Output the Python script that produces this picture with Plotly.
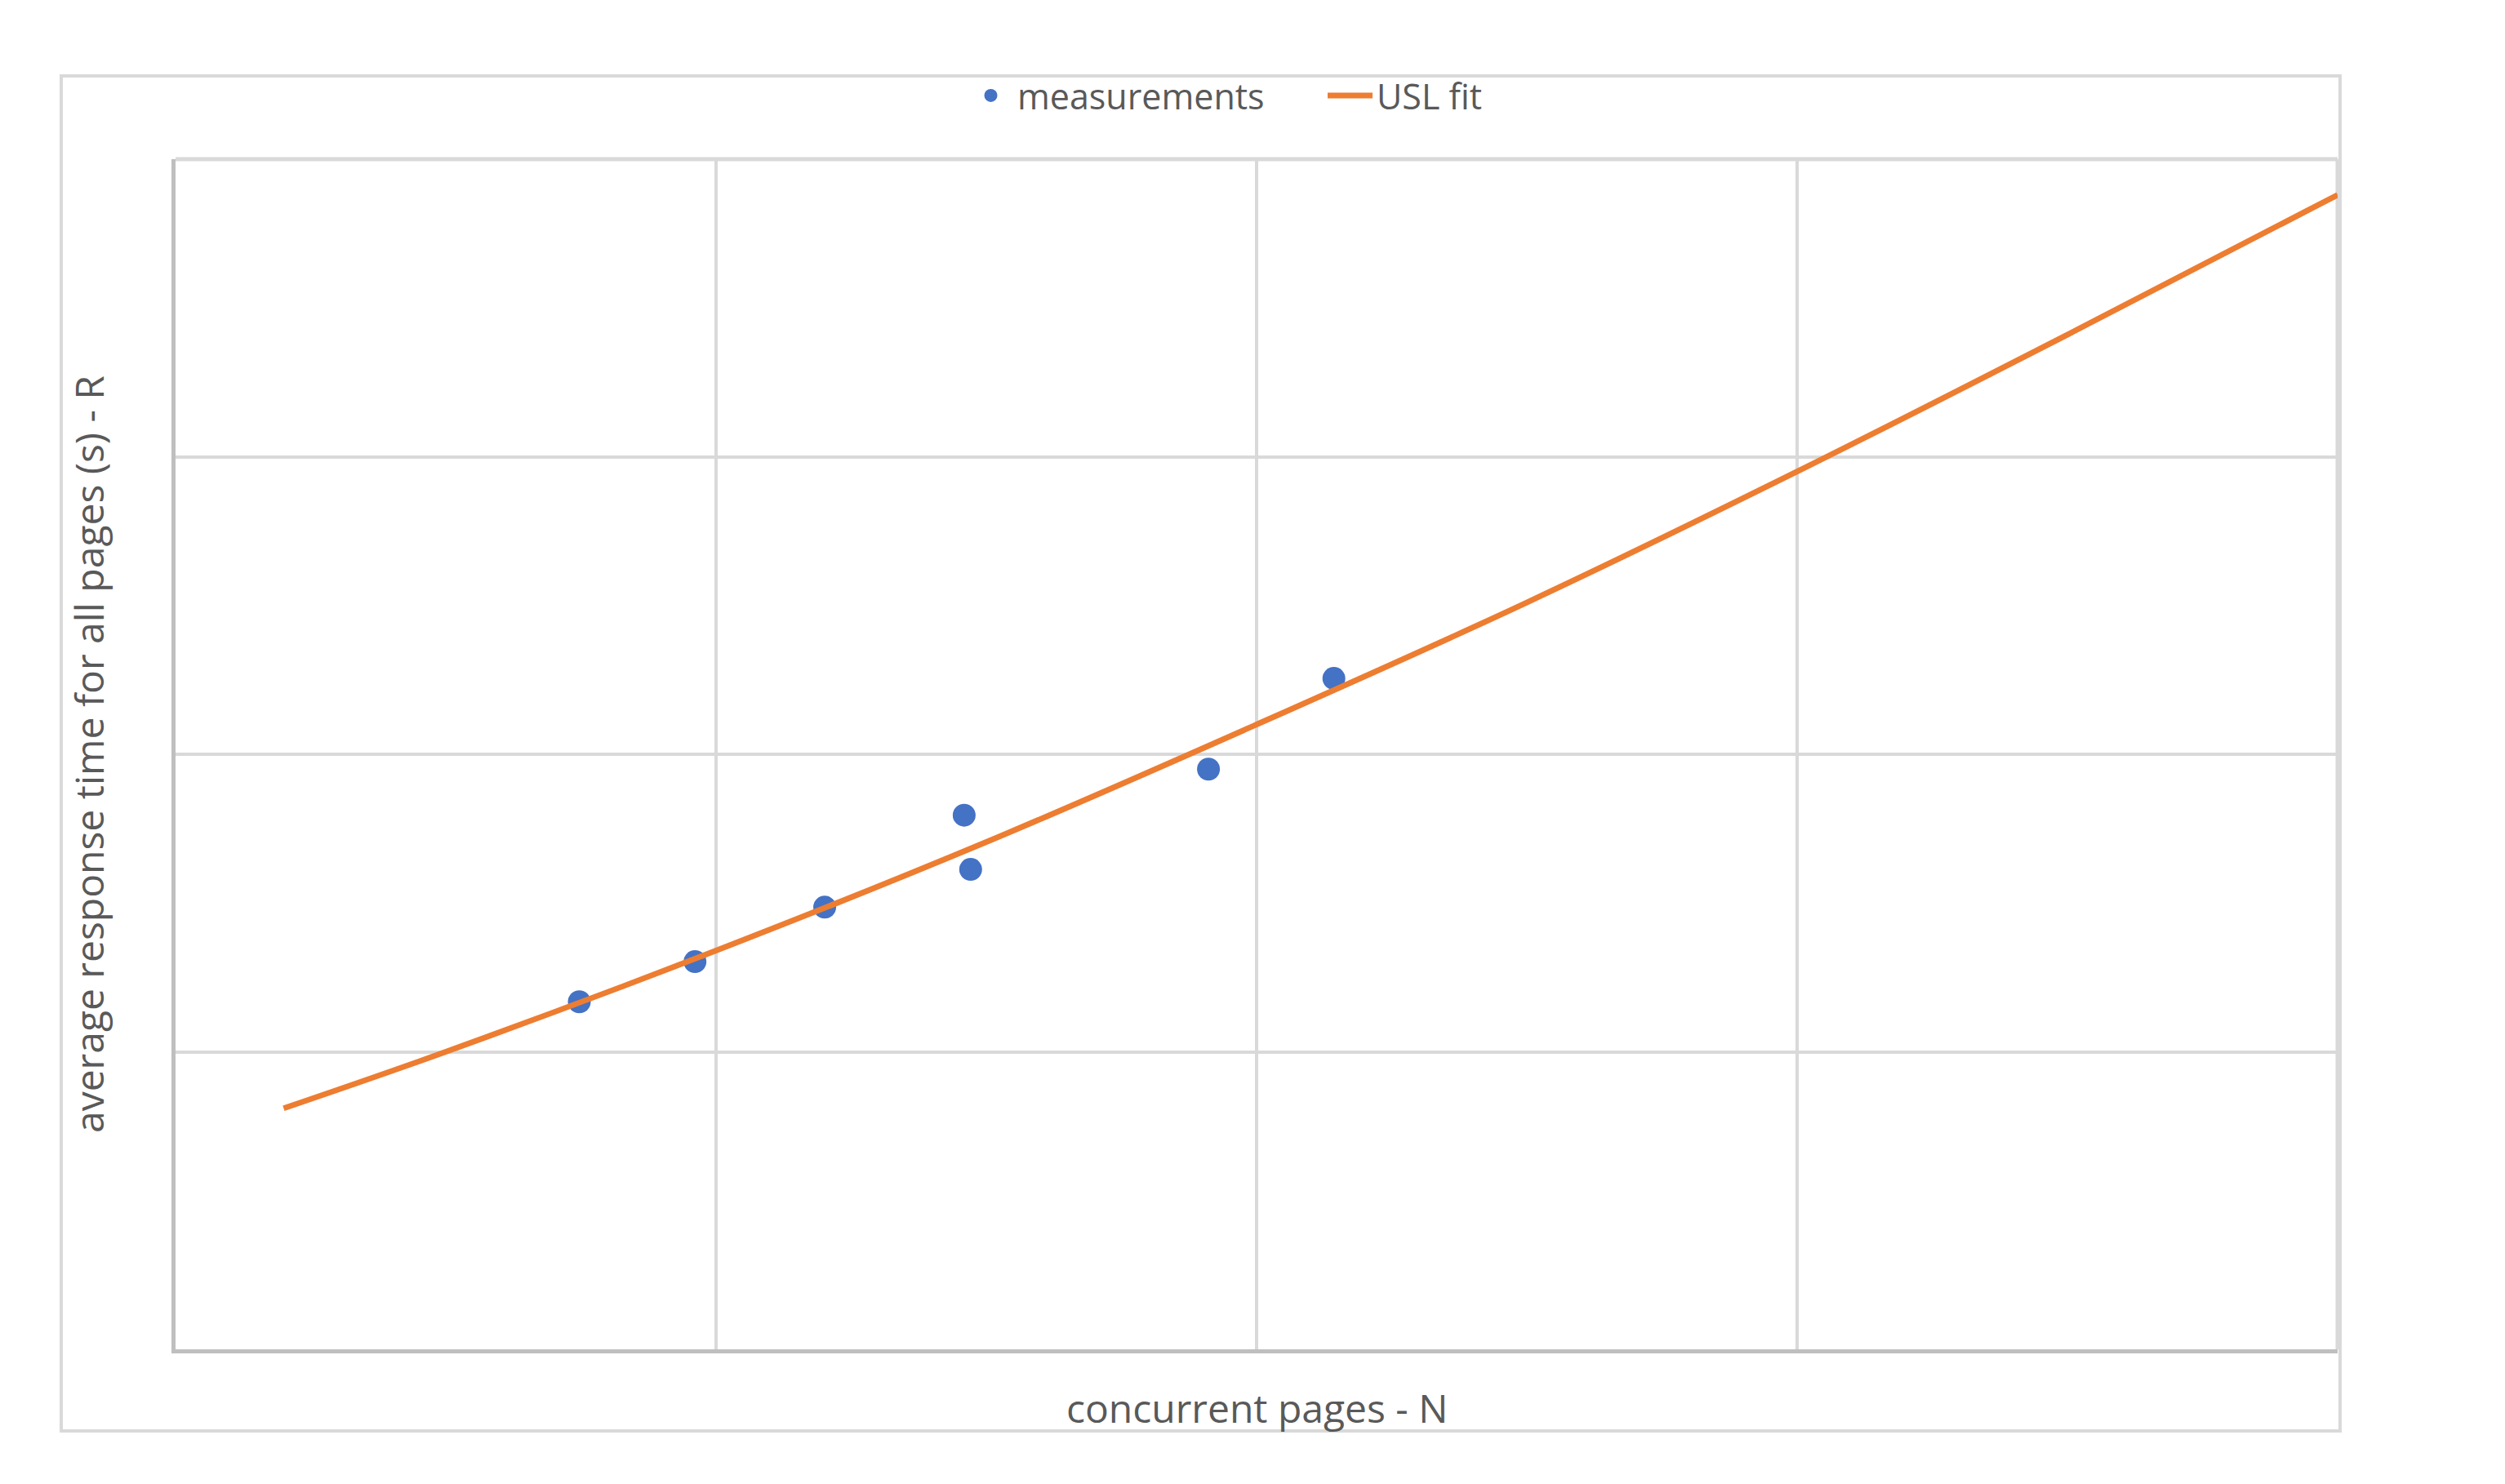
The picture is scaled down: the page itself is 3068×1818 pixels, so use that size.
import plotly.graph_objects as go

# measured points (concurrent pages N, avg response time R)
meas_n = [7.47, 9.61, 12.01, 14.59, 14.71, 19.11, 21.43]
meas_r = [1.168, 1.303, 1.486, 1.795, 1.613, 1.950, 2.255]

# USL fit curve
fit_n = [2, 5, 10, 15, 20, 25, 30, 35, 40]
fit_r = [0.81, 1.00, 1.34, 1.705, 2.10, 2.51, 2.95, 3.41, 3.88]

BLUE = '#4472C4'
ORANGE = '#ED7D31'
GRID = '#d9d9d9'
TXT = '#595959'
FONT = 'Open Sans'

fig = go.Figure()

fig.add_trace(go.Scatter(
    x=meas_n, y=meas_r, mode='markers', name='measurements',
    marker=dict(size=28, color=BLUE)
))
fig.add_trace(go.Scatter(
    x=fit_n, y=fit_r, mode='lines', name='USL fit',
    line=dict(color=ORANGE, width=7, shape='spline')
))

W, H = 3068, 1818
OFF = 8  # page body margin
# plot area as seen in the screenshot
X0, X1, Y0, Y1 = 215, 2863, 195, 1653
pw, ph = X1 - X0, Y1 - Y0
L, T = X0 - OFF, Y0 - OFF
R, B = W - L - pw, H - T - ph


def px(x):
    return (x - X0) / pw


def py(y):
    return (Y1 - y) / ph


fig.update_layout(
    width=W, height=H,
    margin=dict(l=L, r=R, t=T, b=B),
    paper_bgcolor='white', plot_bgcolor='white',
    font=dict(family=FONT, color=TXT, size=46),
    showlegend=True,
    legend=dict(orientation='h', x=px(1181), xanchor='left', y=py(117), yanchor='middle',
                font=dict(size=43, color=TXT), bgcolor='rgba(0,0,0,0)',
                itemwidth=55, entrywidth=370, entrywidthmode='pixels'),
    xaxis=dict(range=[0, 40], dtick=10, showticklabels=False, ticks='',
               showgrid=True, gridcolor=GRID, gridwidth=4, zeroline=False,
               showline=True, linecolor='#bfbfbf', linewidth=5),
    yaxis=dict(range=[0, 4], dtick=1, showticklabels=False, ticks='',
               showgrid=True, gridcolor=GRID, gridwidth=4, zeroline=False,
               showline=True, linecolor='#bfbfbf', linewidth=5),
    annotations=[
        dict(text='concurrent pages - N', xref='paper', yref='paper',
             x=0.5, y=py(1724), xanchor='center', yanchor='middle', showarrow=False,
             font=dict(size=48, color=TXT)),
        dict(text='average response time for all pages (s) - R', xref='paper', yref='paper',
             x=px(108), y=0.5, xanchor='center', yanchor='middle', showarrow=False,
             textangle=-90, font=dict(size=48, color=TXT)),
    ],
    shapes=[
        # outer chart frame
        dict(type='rect', xref='paper', yref='paper', x0=px(75), x1=px(2866), y0=py(1753), y1=py(93),
             line=dict(color=GRID, width=4), layer='below'),
        # top and right plot borders
        dict(type='line', xref='paper', yref='paper', x0=0, x1=1, y0=1, y1=1,
             line=dict(color=GRID, width=5), layer='below'),
        dict(type='line', xref='paper', yref='paper', x0=1, x1=1, y0=0, y1=1,
             line=dict(color=GRID, width=5), layer='below'),
    ],
)

fig.write_html("out.html")
